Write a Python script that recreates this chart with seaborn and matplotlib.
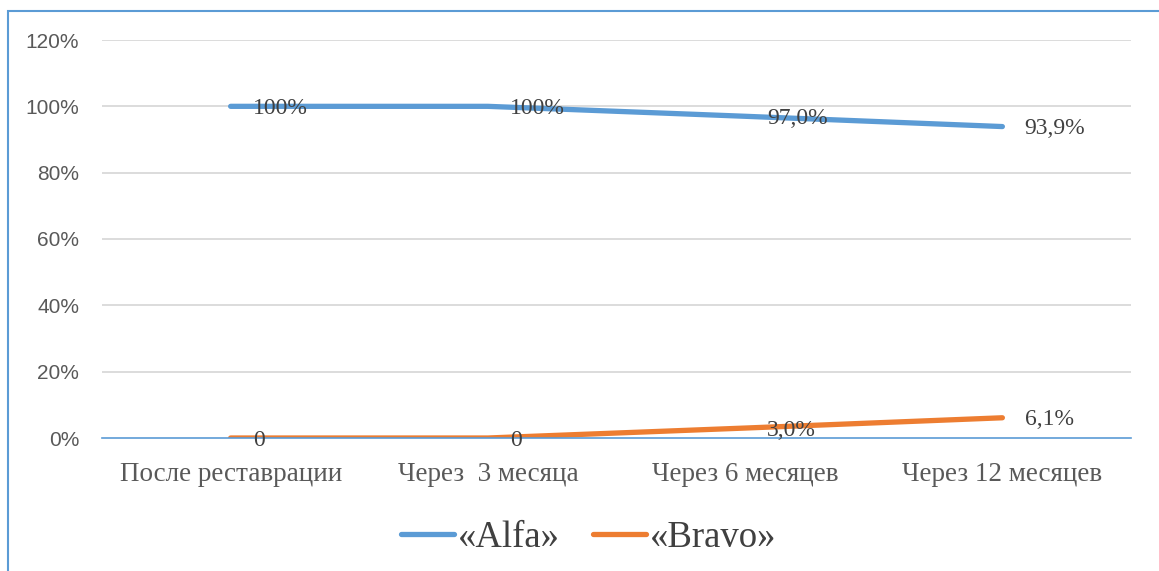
import matplotlib
matplotlib.use("Agg")
import matplotlib.pyplot as plt
import seaborn as sns
import pandas as pd
from matplotlib.patches import Rectangle

categories = ["После реставрации", "Через  3 месяца", "Через 6 месяцев", "Через 12 месяцев"]
alfa = [100.0, 100.0, 97.0, 93.9]
bravo = [0.0, 0.0, 3.0, 6.1]
alfa_labels = ["100%", "100%", "97,0%", "93,9%"]
bravo_labels = ["0", "0", "3,0%", "6,1%"]
series_names = ["«Alfa»", "«Bravo»"]
y_ticks = [0, 20, 40, 60, 80, 100, 120]

BLUE = "#5B9BD5"
ORANGE = "#ED7D31"

df = pd.DataFrame({
    "period": categories * 2,
    "pos": list(range(len(categories))) * 2,
    "value": alfa + bravo,
    "series": [series_names[0]] * len(categories) + [series_names[1]] * len(categories),
})

sns.set_theme(style="white")
plt.rcParams["font.family"] = ["Liberation Serif", "DejaVu Sans"]

fig = plt.figure(figsize=(11.59, 5.71), dpi=100)
ax = fig.add_axes([102 / 1159, 1 - 438 / 571, 1029 / 1159, 398 / 571])

# chart frame (continues past the right and bottom edges)
fig.patches.append(Rectangle((8 / 1159, -0.1), 1.2, 1 - 11 / 571 + 0.1,
                             transform=fig.transFigure, fill=False,
                             edgecolor=BLUE, linewidth=1.5, zorder=0))

sns.lineplot(data=df, x="pos", y="value", hue="series",
             palette=[BLUE, ORANGE], linewidth=3.8, ax=ax,
             solid_capstyle="round", legend=True)

ax.set_xlim(-0.5, len(categories) - 0.5)
ax.set_ylim(0, 120)
ax.set_yticks(y_ticks)
ax.set_yticklabels([f"{t}%" for t in y_ticks], fontfamily="Liberation Sans",
                   fontsize=15, color="#595959")
ax.set_xticks(range(len(categories)))
ax.set_xticklabels(categories, fontsize=19.5, color="#595959")
ax.tick_params(axis="y", length=0, pad=16.5)
ax.tick_params(axis="x", length=0, pad=17)
ax.set_xlabel("")
ax.set_ylabel("")

for y in y_ticks[1:]:
    ax.axhline(y, color="#D9D9D9", linewidth=1.3, zorder=0)

for s in ["top", "right", "left"]:
    ax.spines[s].set_visible(False)
ax.spines["bottom"].set_color(BLUE)
ax.spines["bottom"].set_linewidth(1.2)

for vals, labs in ((alfa, alfa_labels), (bravo, bravo_labels)):
    for i, (v, lab) in enumerate(zip(vals, labs)):
        ax.annotate(lab, (i, v), xytext=(16, -1.5), textcoords="offset points",
                    ha="left", va="center", fontsize=17, color="#404040")

handles, labels = ax.get_legend_handles_labels()
ax.legend(handles, labels, loc="center", bbox_to_anchor=(0.473, -0.25),
          ncol=2, frameon=False, fontsize=26.5, handlelength=1.45,
          handletextpad=0.1, columnspacing=0.9, labelcolor="#404040")

fig.savefig("out.png", dpi=100)
